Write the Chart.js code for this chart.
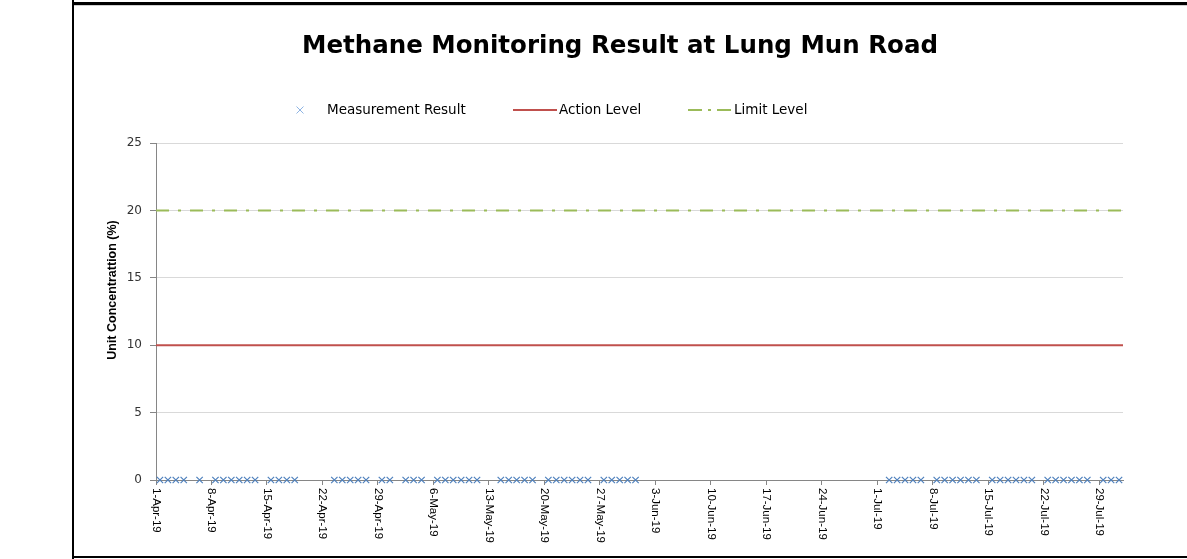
<!DOCTYPE html>
<html>
<head>
<meta charset="utf-8">
<script src="https://cdn.jsdelivr.net/npm/chart.js@4.4.0/dist/chart.umd.min.js"></script>
<style>
  html, body { margin: 0; padding: 0; background: #fff; }
  #wrap { position: relative; width: 1187px; height: 559px; overflow: hidden; }
  canvas { position: absolute; left: 0; top: 0; }
  .b { position: absolute; background: #000; }
</style>
</head>
<body>
<div id="wrap">
  <canvas id="c" width="1187" height="559"></canvas>
  <div class="b" style="left:72px; top:2px; width:1115px; height:3px;"></div>
  <div class="b" style="left:72px; top:5px; width:1115px; height:1px; background:#d0d0d0;"></div>
  <div class="b" style="left:72px; top:0px; width:2px; height:559px;"></div>
  <div class="b" style="left:72px; top:556px; width:1115px; height:2px;"></div>
</div>
<script>
// ---- data ----
const chartTitle = 'Methane Monitoring Result at Lung Mun Road';
const yAxisTitle = 'Unit Concentrattion (%)';
const axisStart = '2019-04-01';   // first day on the date axis
const axisDays = 122;             // 1-Apr-19 .. 31-Jul-19
const tickDays = [0, 7, 14, 21, 28, 35, 42, 49, 56, 63, 70, 77, 84, 91, 98, 105, 112, 119];
const tickLabels = ['1-Apr-19', '8-Apr-19', '15-Apr-19', '22-Apr-19', '29-Apr-19', '6-May-19',
  '13-May-19', '20-May-19', '27-May-19', '3-Jun-19', '10-Jun-19', '17-Jun-19', '24-Jun-19',
  '1-Jul-19', '8-Jul-19', '15-Jul-19', '22-Jul-19', '29-Jul-19'];
const measurementDates = [
  '2019-04-01','2019-04-02','2019-04-03','2019-04-04','2019-04-06',
  '2019-04-08','2019-04-09','2019-04-10','2019-04-11','2019-04-12','2019-04-13',
  '2019-04-15','2019-04-16','2019-04-17','2019-04-18',
  '2019-04-23','2019-04-24','2019-04-25','2019-04-26','2019-04-27',
  '2019-04-29','2019-04-30','2019-05-02','2019-05-03','2019-05-04',
  '2019-05-06','2019-05-07','2019-05-08','2019-05-09','2019-05-10','2019-05-11',
  '2019-05-14','2019-05-15','2019-05-16','2019-05-17','2019-05-18',
  '2019-05-20','2019-05-21','2019-05-22','2019-05-23','2019-05-24','2019-05-25',
  '2019-05-27','2019-05-28','2019-05-29','2019-05-30','2019-05-31',
  '2019-07-02','2019-07-03','2019-07-04','2019-07-05','2019-07-06',
  '2019-07-08','2019-07-09','2019-07-10','2019-07-11','2019-07-12','2019-07-13',
  '2019-07-15','2019-07-16','2019-07-17','2019-07-18','2019-07-19','2019-07-20',
  '2019-07-22','2019-07-23','2019-07-24','2019-07-25','2019-07-26','2019-07-27',
  '2019-07-29','2019-07-30','2019-07-31'
];
const measurementValues = [
  0,0,0,0,0, 0,0,0,0,0,0, 0,0,0,0, 0,0,0,0,0, 0,0,0,0,0,
  0,0,0,0,0,0, 0,0,0,0,0, 0,0,0,0,0,0, 0,0,0,0,0,
  0,0,0,0,0, 0,0,0,0,0,0, 0,0,0,0,0,0, 0,0,0,0,0,0, 0,0,0
];
const actionLevelValues = [10, 10];
const limitLevelValues = [20, 20];
const yTicks = [0, 5, 10, 15, 20, 25];

// ---- build ----
const DAY = 86400000;
const t0 = Date.parse(axisStart + 'T00:00:00Z');
function dayIndex(s) { return Math.round((Date.parse(s + 'T00:00:00Z') - t0) / DAY); }
const measurementPoints = measurementDates.map((d, i) => ({ x: dayIndex(d) + 0.5, y: measurementValues[i] }));
const levelX = [0, axisDays];
const actionPoints = actionLevelValues.map((v, i) => ({ x: levelX[i], y: v }));
const limitPoints = limitLevelValues.map((v, i) => ({ x: levelX[i], y: v }));

const BLUE = '#4f81bd', RED = '#c0504d', GREEN = '#9bbb59';

const decor = {
  id: 'decor',
  afterDraw(chart) {
    const ctx = chart.ctx;
    const xs = chart.scales.x;
    const area = chart.chartArea;
    ctx.save();
    // x tick labels, rotated clockwise
    ctx.fillStyle = '#000';
    ctx.font = '11.5px "Liberation Sans", Arial, sans-serif';
    ctx.textAlign = 'left';
    ctx.textBaseline = 'middle';
    tickDays.forEach((d, i) => {
      const px = xs.getPixelForValue(d);
      ctx.save();
      ctx.translate(px, area.bottom + 8);
      ctx.rotate(Math.PI / 2);
      ctx.fillText(tickLabels[i], 0, 0);
      ctx.restore();
    });
    // y axis title
    ctx.save();
    ctx.font = 'bold 12.5px "Liberation Sans Narrow", "Arial Narrow", "Liberation Sans", sans-serif';
    ctx.textAlign = 'center';
    ctx.textBaseline = 'middle';
    ctx.translate(113, 290);
    ctx.rotate(-Math.PI / 2);
    ctx.fillText(yAxisTitle, 0, 0);
    ctx.restore();
    // main title
    ctx.font = 'bold 24.5px "DejaVu Sans", Verdana, sans-serif';
    ctx.textAlign = 'center';
    ctx.textBaseline = 'middle';
    ctx.fillText(chartTitle, 620, 47);
    // legend
    const ly = 110;
    ctx.font = '13.5px "DejaVu Sans", Verdana, sans-serif';
    ctx.textAlign = 'left';
    ctx.fillStyle = '#000';
    // marker
    ctx.strokeStyle = '#8eb4e3';
    ctx.lineWidth = 1;
    ctx.beginPath();
    ctx.moveTo(300 - 3.5, ly - 3.5); ctx.lineTo(300 + 3.5, ly + 3.5);
    ctx.moveTo(300 + 3.5, ly - 3.5); ctx.lineTo(300 - 3.5, ly + 3.5);
    ctx.stroke();
    ctx.fillText(chart.data.datasets[0].label, 327, ly);
    // action
    ctx.strokeStyle = RED; ctx.lineWidth = 2;
    ctx.beginPath(); ctx.moveTo(513, ly); ctx.lineTo(557, ly); ctx.stroke();
    ctx.fillText(chart.data.datasets[1].label, 559, ly);
    // limit
    ctx.strokeStyle = GREEN; ctx.lineWidth = 2;
    ctx.setLineDash([14, 6, 3, 6]);
    ctx.beginPath(); ctx.moveTo(688, ly); ctx.lineTo(733, ly); ctx.stroke();
    ctx.setLineDash([]);
    ctx.fillText(chart.data.datasets[2].label, 734, ly);
    ctx.restore();
  }
};

new Chart(document.getElementById('c'), {
  type: 'scatter',
  data: {
    datasets: [
      { label: 'Measurement Result', data: measurementPoints, showLine: false,
        pointStyle: 'crossRot', pointRadius: 4.5, pointBorderWidth: 1.2,
        borderColor: BLUE, backgroundColor: BLUE, order: 0, clip: false },
      { label: 'Action Level', data: actionPoints, showLine: true, pointRadius: 0,
        borderColor: RED, backgroundColor: RED, borderWidth: 2, order: 2 },
      { label: 'Limit Level', data: limitPoints, showLine: true, pointRadius: 0,
        borderColor: GREEN, backgroundColor: GREEN, borderWidth: 2,
        borderDash: [13, 9, 3, 9], order: 1 }
    ]
  },
  options: {
    responsive: false,
    animation: false,
    events: [],
    layout: { padding: { left: 96, top: 143, right: 64, bottom: 9 } },
    plugins: { legend: { display: false }, title: { display: false }, tooltip: { enabled: false } },
    scales: {
      x: {
        type: 'linear', min: 0, max: axisDays,
        afterBuildTicks: s => { s.ticks = tickDays.map(v => ({ value: v })); },
        afterFit: s => { s.height = 70; },
        ticks: { display: false },
        grid: { drawOnChartArea: false, drawTicks: true, tickLength: 5, color: '#868686' },
        border: { color: '#868686', width: 1 }
      },
      y: {
        min: 0, max: 25,
        afterBuildTicks: s => { s.ticks = yTicks.map(v => ({ value: v })); },
        afterFit: s => { s.width = 60; },
        ticks: { color: '#333', padding: 8, font: { family: '"DejaVu Sans", Verdana, sans-serif', size: 12 } },
        grid: { color: '#d9d9d9', tickColor: '#868686', tickLength: 6 },
        border: { color: '#868686', width: 1 }
      }
    }
  },
  plugins: [decor]
});
</script>
</body>
</html>
